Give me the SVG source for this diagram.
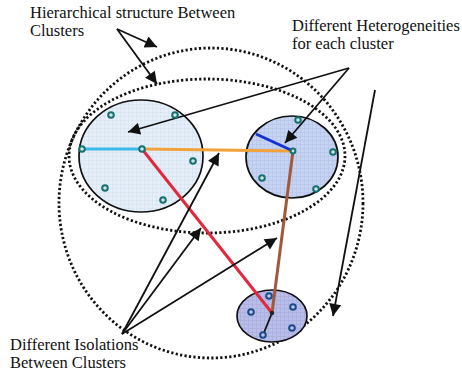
<svg xmlns="http://www.w3.org/2000/svg" width="462" height="373" viewBox="0 0 462 373">
<style>
.lbl{font-family:"Liberation Serif","Times New Roman",serif;font-size:16.5px;fill:#111}
.ring{fill:none;stroke:#111;stroke-width:2.8;stroke-dasharray:2.2 2.3}
.cl{stroke:#111;stroke-width:1.7}
.dot{fill:#cfe6e8;stroke:#16706f;stroke-width:2}
.dotb{fill:#c0c6ee;stroke:#1b4a8a;stroke-width:2}
.arr{stroke:#111;stroke-width:1.8;fill:none;marker-end:url(#ah)}
.link{stroke-width:3;fill:none}
</style>
<defs>
<marker id="ah" viewBox="0 0 10 10" refX="10" refY="5" markerUnits="userSpaceOnUse" markerWidth="15" markerHeight="12" orient="auto">
<path d="M0,0 L10,5 L0,10 z" fill="#111"/>
</marker>
<pattern id="g1" width="4" height="4" patternUnits="userSpaceOnUse">
<rect width="4" height="4" fill="#e6eff9"/>
<path d="M0,0.5 H4 M0.5,0 V4" stroke="#d3e0ef" stroke-width="0.6"/>
</pattern>
<pattern id="g2" width="4" height="4" patternUnits="userSpaceOnUse">
<rect width="4" height="4" fill="#c6d3f3"/>
<path d="M0,0.5 H4 M0.5,0 V4" stroke="#b3c2ea" stroke-width="0.6"/>
</pattern>
<pattern id="g3" width="4" height="4" patternUnits="userSpaceOnUse">
<rect width="4" height="4" fill="#b9bde9"/>
<path d="M0,0.5 H4 M0.5,0 V4" stroke="#a6abdc" stroke-width="0.6"/>
</pattern>
</defs>
<g id="ring-outer"><ellipse class="ring" cx="211" cy="203" rx="152" ry="155"/></g>
<g id="ring-inner"><ellipse class="ring" cx="207" cy="156" rx="138" ry="77"/></g>
<g id="cluster-left">
<ellipse class="cl" cx="141" cy="156" rx="62" ry="56" fill="url(#g1)"/>
</g>
<g id="cluster-right">
<ellipse class="cl" cx="292" cy="157" rx="46" ry="41" fill="url(#g2)"/>
</g>
<g id="cluster-bottom">
<ellipse class="cl" cx="272" cy="316" rx="35" ry="26" fill="url(#g3)"/>
</g>
<g id="connectors">
<line class="link" x1="82" y1="149" x2="142" y2="149" stroke="#3db9ea"/>
<line class="link" x1="142" y1="149" x2="293" y2="151" stroke="#f2a23a"/>
<line class="link" x1="142" y1="149" x2="272" y2="313" stroke="#e3283c"/>
<line class="link" x1="293" y1="151" x2="256" y2="134" stroke="#1232d4"/>
<line class="link" x1="293" y1="151" x2="272" y2="313" stroke="#a4583a"/>
<line x1="272" y1="313" x2="263" y2="335" stroke="#111" stroke-width="1.8"/>
<line class="arr" x1="117" y1="29" x2="157" y2="47"/>
<line class="arr" x1="117" y1="29" x2="157" y2="84"/>
<line class="arr" x1="349" y1="68" x2="128" y2="132"/>
<line class="arr" x1="349" y1="68" x2="285" y2="143"/>
<line class="arr" x1="375" y1="90" x2="333" y2="316"/>
<line class="arr" x1="122" y1="334" x2="219" y2="153"/>
<line class="arr" x1="122" y1="334" x2="201" y2="228"/>
<line class="arr" x1="122" y1="334" x2="277" y2="238"/>
</g>
<g id="dots-left">
<circle class="dot" cx="82" cy="149" r="2.8"/>
<circle class="dot" cx="142" cy="149" r="2.8"/>
<circle class="dot" cx="111" cy="115" r="2.8"/>
<circle class="dot" cx="175" cy="115" r="2.8"/>
<circle class="dot" cx="193" cy="161" r="2.8"/>
<circle class="dot" cx="105" cy="188" r="2.8"/>
<circle class="dot" cx="163" cy="200" r="2.8"/>
</g>
<g id="dots-right">
<circle class="dot" cx="293" cy="151" r="2.4"/>
<circle class="dot" cx="298" cy="120" r="2.8"/>
<circle class="dot" cx="333" cy="152" r="2.8"/>
<circle class="dot" cx="262" cy="178" r="2.8"/>
<circle class="dot" cx="316" cy="189" r="2.8"/>
</g>
<g id="dots-bottom">
<circle cx="272" cy="313" r="2.2" fill="#222"/>
<circle class="dotb" cx="269" cy="296" r="2.8"/>
<circle class="dotb" cx="251" cy="312" r="2.8"/>
<circle class="dotb" cx="293" cy="307" r="2.8"/>
<circle class="dotb" cx="263" cy="335" r="2.8"/>
<circle class="dotb" cx="292" cy="328" r="2.8"/>
</g>
<g id="label-hierarchy">
<text class="lbl" x="30" y="18">Hierarchical structure Between</text>
<text class="lbl" x="30" y="36">Clusters</text>
</g>
<g id="label-heterogeneity">
<text class="lbl" x="292" y="31">Different Heterogeneities</text>
<text class="lbl" x="292" y="49">for each cluster</text>
</g>
<g id="label-isolation">
<text class="lbl" x="10" y="350">Different Isolations</text>
<text class="lbl" x="10" y="368">Between Clusters</text>
</g>
</svg>
